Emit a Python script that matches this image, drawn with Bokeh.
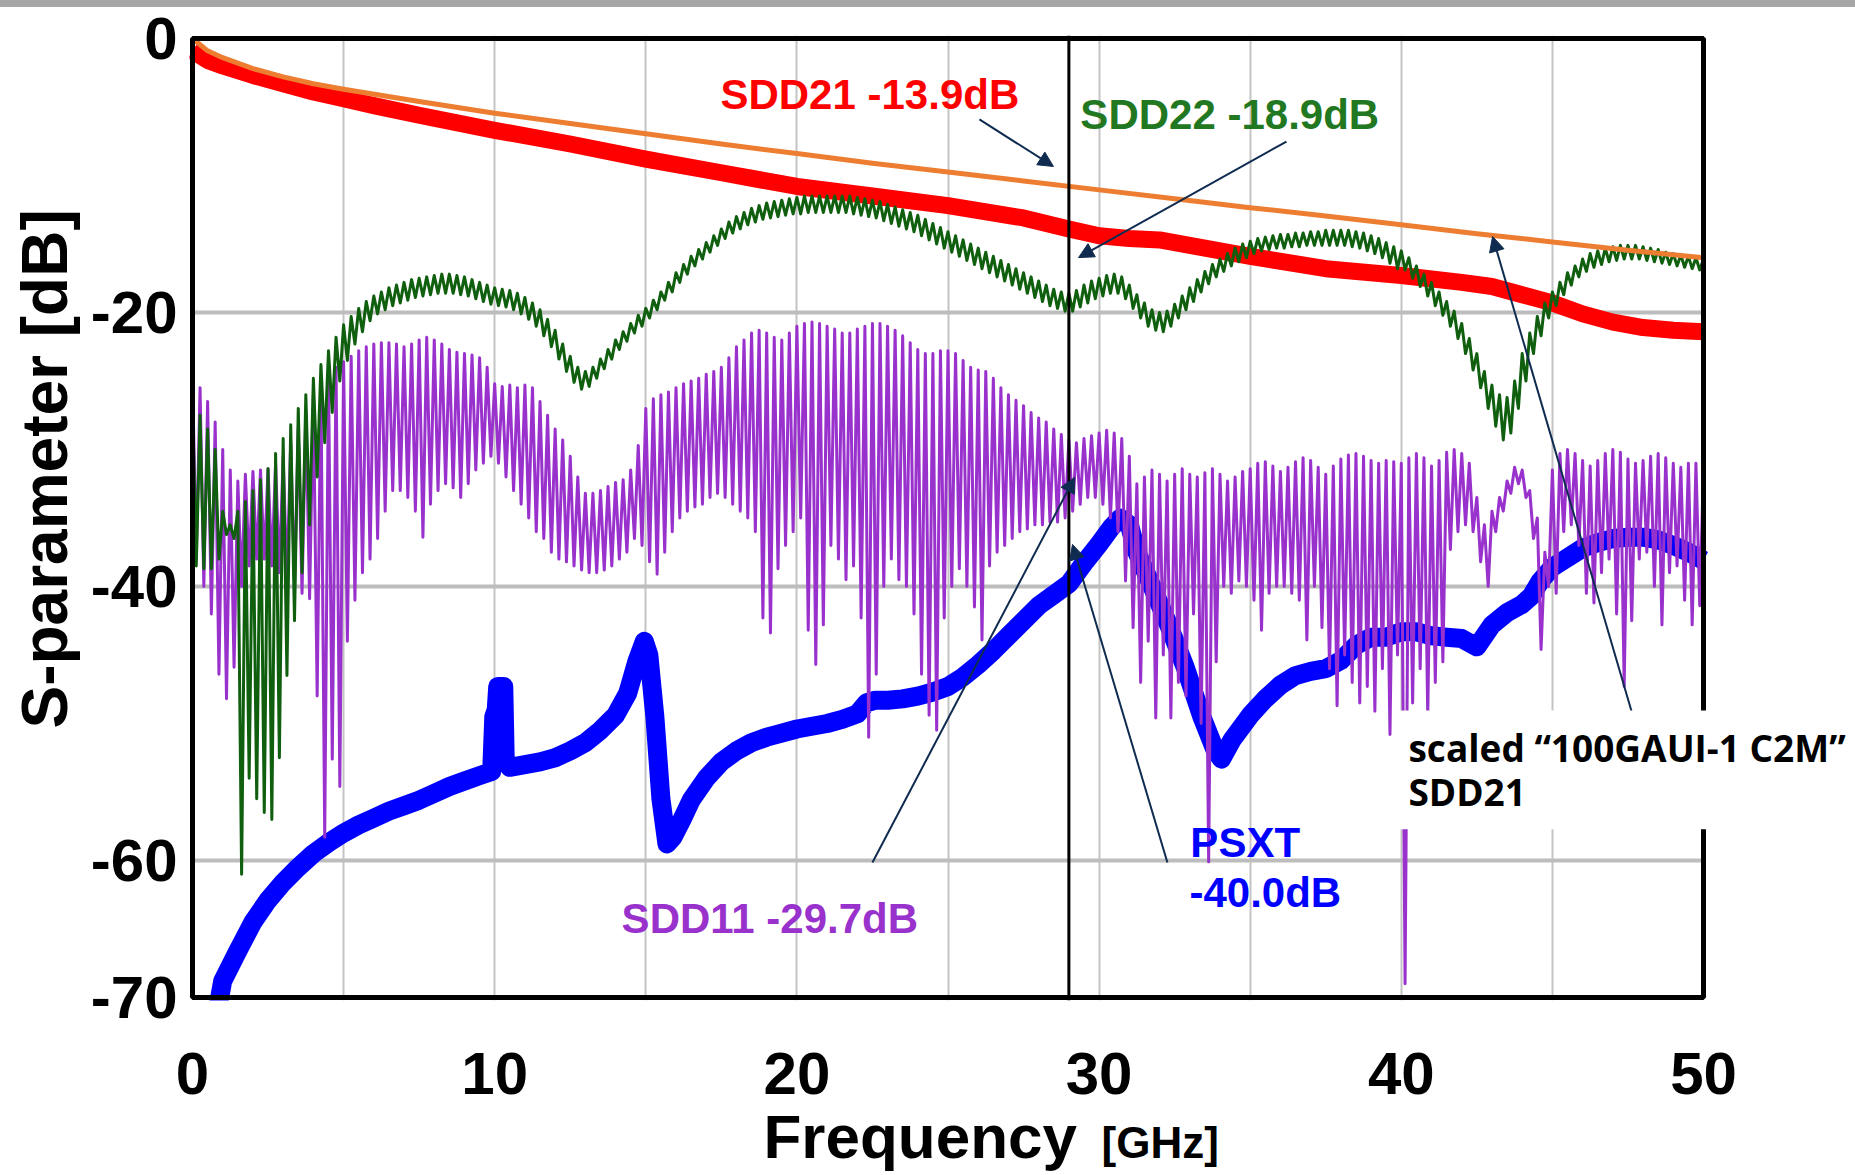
import numpy as np
from bokeh.plotting import figure
from bokeh.models import Range1d, FixedTicker, Label, Arrow, NormalHead, Div, Span, Title
from bokeh.layouts import column
from bokeh.embed import file_html
from bokeh.resources import INLINE

# ---------------- data ----------------
x_ticks = [0, 10, 20, 30, 40, 50]
y_ticks = [0, -20, -40, -60, -70]
y_tick_text = {0: "0", -20: "-20", -40: "-40", -60: "-60", -70: "-70"}
x_grid = [5, 10, 15, 20, 25, 30, 35, 40, 45]
y_grid = [-20, -40, -60]
marker_freq = 29.0

# scaled "100GAUI-1 C2M" SDD21 (orange)
orange_f = [0, 0.5, 1, 2, 3, 4, 5, 7.5, 10, 12.5, 15, 17.5, 20, 22.5, 25, 27.5, 30,
            32.5, 35, 37.5, 40, 42.5, 45, 47.5, 50]
orange_db = [0, -0.9, -1.4, -2.2, -2.8, -3.3, -3.7, -4.6, -5.45, -6.2, -6.95, -7.7, -8.4,
             -9.1, -9.75, -10.4, -11.05, -11.7, -12.35, -12.95, -13.6, -14.25, -14.85, -15.45, -16.0]

# SDD21 (red)
red_f = [0, 0.5, 1, 2, 3, 4, 5, 6, 7.5, 10, 12.5, 15, 17.5, 20, 22.5, 25, 27.5, 29, 30, 31,
         32, 33, 35, 37.5, 40, 42, 43, 44, 45, 46, 47, 48, 49, 50]
red_db = [-0.9, -1.6, -2.0, -2.7, -3.3, -3.9, -4.4, -4.9, -5.6, -6.7, -7.7, -8.8, -9.8, -10.8,
          -11.5, -12.2, -13.1, -13.9, -14.4, -14.6, -14.7, -15.1, -15.9, -16.8, -17.3, -17.8,
          -18.1, -18.7, -19.3, -20.1, -20.7, -21.1, -21.3, -21.4]

# PSXT (blue)
blue_f = [0.85, 1.0, 1.5, 2.0, 2.5, 3.0, 3.5, 4.0, 4.5, 5.0, 5.5, 6.0, 6.5, 7.0, 7.5, 8.0, 8.5,
          9.0, 9.5, 9.9, 9.97, 10.05, 10.1, 10.3, 10.35, 10.5, 11.0, 11.5, 12.0, 12.5, 13.0,
          13.5, 14.0, 14.4, 14.7, 14.95, 15.1, 15.3, 15.5, 15.7, 15.9, 16.2, 16.5, 17.0, 17.5,
          18.0, 18.5, 19.0, 19.5, 20.0, 20.5, 21.0, 21.5, 22.0, 22.3, 22.6, 23.0, 23.5, 24.0,
          24.5, 25.0, 25.5, 26.0, 26.5, 27.0, 27.5, 28.0, 28.5, 29.0, 29.5, 30.0, 30.4, 30.7,
          31.0, 31.25, 31.75, 32.3, 32.85, 33.4, 33.85, 34.05, 34.4, 35.0, 35.5, 36.0, 36.5,
          37.0, 37.5, 38.0, 38.5, 39.0, 39.5, 40.0, 40.5, 41.0, 41.5, 42.0, 42.5, 43.0, 43.5,
          44.0, 44.3, 44.6, 45.0, 45.5, 46.0, 46.5, 47.0, 47.5, 48.0, 48.5, 49.0, 49.5, 50.0]
blue_db = [-70.6, -68.8, -66.6, -64.5, -62.9, -61.6, -60.5, -59.5, -58.7, -58.0, -57.4, -56.9,
           -56.4, -56.0, -55.6, -55.1, -54.6, -54.2, -53.8, -53.5, -49.5, -49.0, -47.3, -47.3,
           -52.8, -53.2, -53.0, -52.8, -52.5, -52.0, -51.4, -50.5, -49.4, -47.8, -45.5, -44.0,
           -45.0, -49.5, -55.5, -58.8, -58.3, -57.0, -55.6, -54.0, -52.8, -52.0, -51.4, -51.0,
           -50.7, -50.4, -50.2, -50.0, -49.7, -49.3, -48.5, -48.3, -48.3, -48.2, -48.0, -47.7,
           -47.3, -46.6, -45.7, -44.7, -43.6, -42.5, -41.4, -40.6, -39.8, -38.3, -36.9, -35.7,
           -35.0, -35.5, -37.5, -40.0, -42.8, -45.9, -49.5, -52.0, -52.6, -51.2, -49.4, -48.2,
           -47.2, -46.5, -46.2, -46.0, -45.4, -44.3, -43.7, -43.7, -43.3, -43.3, -43.6, -43.7,
           -43.8, -44.4, -42.8, -41.9, -41.3, -40.7, -39.6, -38.6, -37.9, -37.2, -36.8, -36.5,
           -36.4, -36.4, -36.6, -37.0, -37.5, -38.1]

# ripple peaks at 0, 0.25, ... 50 GHz; ripple dips at 0.125, 0.375, ... 49.875 GHz
ripple_step = 0.25

# SDD11 (purple)
purple_peak_db = [
    -24.5, -25.5, -26.5, -28.0, -30.0, -31.5, -32.3, -31.8, -31.6, -31.5, -31.4, -31.0, -30.5, -29.5, -28.5, -27.2, -26.0, -25.0, -24.4, -24.0,
    -23.6, -23.2, -22.8, -22.5, -22.3, -22.2, -22.2, -22.3, -22.5, -22.3, -22.0, -21.8, -22.0, -22.3, -22.7, -22.9, -23.0, -23.1, -23.3, -24.0,
    -25.2, -25.4, -25.3, -25.5, -25.3, -25.5, -26.5, -27.5, -28.5, -29.3, -30.5, -32.0, -33.2, -33.2, -33.0, -32.7, -32.4, -32.2, -31.5, -29.7,
    -27.0, -26.3, -26.0, -25.8, -25.5, -25.2, -25.0, -24.8, -24.5, -24.3, -24.0, -23.3, -22.5, -22.0, -21.5, -21.3, -21.5, -21.8, -22.0, -21.5,
    -21.0, -20.8, -20.7, -20.8, -21.0, -21.2, -21.5, -21.5, -21.2, -21.0, -20.8, -20.8, -21.0, -21.3, -21.7, -22.2, -22.7, -23.0, -23.0, -22.8,
    -22.8, -23.0, -23.5, -24.0, -24.2, -24.3, -24.8, -25.5, -26.0, -26.4, -26.8, -27.3, -27.7, -28.0, -28.5, -28.9, -29.3, -29.5, -29.2, -29.0,
    -28.8, -28.6, -28.8, -29.2, -30.5, -32.5, -32.0, -31.5, -31.8, -32.3, -31.8, -31.4, -31.8, -32.0, -31.7, -31.4, -31.8, -32.3, -32.0, -31.6,
    -31.4, -31.0, -30.9, -31.2, -31.6, -31.3, -30.9, -30.6, -30.8, -31.3, -31.8, -31.2, -30.7, -30.4, -30.3, -30.5, -30.8, -31.0, -30.8, -30.9,
    -31.0, -30.6, -30.3, -30.6, -31.2, -30.8, -30.2, -30.0, -30.3, -31.0, -33.5, -35.5, -34.5, -33.5, -32.3, -31.3, -31.5, -33.0, -35.0, -37.5,
    -31.5, -30.3, -30.0, -30.3, -30.8, -31.2, -30.8, -30.3, -30.0, -30.2, -30.7, -31.0, -30.8, -30.5, -30.3, -30.6, -31.0, -31.3, -31.0, -31.0,
    -31.2]
purple_dip_db = [
    -38.0, -40.0, -42.0, -46.4, -48.2, -45.9, -40.0, -38.5, -38.0, -38.0, -38.5, -39.0, -39.5, -40.0, -40.5, -40.9, -48.0, -58.3, -52.6, -54.6,
    -44.0, -41.0, -39.0, -38.0, -36.5, -34.5, -33.0, -33.0, -33.5, -34.5, -36.4, -34.0, -33.0, -32.5, -32.8, -33.5, -32.5, -31.5, -31.0, -30.5,
    -31.0, -32.0, -33.0, -34.0, -35.0, -36.0, -36.5, -37.5, -38.0, -38.2, -38.5, -38.8, -39.0, -39.0, -38.8, -38.5, -38.0, -37.5, -36.5, -37.0,
    -38.2, -39.1, -37.5, -36.0, -35.0, -34.5, -34.2, -34.0, -33.5, -33.2, -33.5, -34.0, -34.5, -35.0, -36.0, -42.3, -43.4, -38.7, -37.0, -36.0,
    -35.0, -43.2, -45.7, -42.8, -37.0, -38.0, -39.5, -38.5, -42.3, -51.0, -46.4, -40.0, -38.0, -39.5, -40.0, -42.0, -46.4, -49.4, -50.5, -42.3,
    -40.0, -38.7, -40.0, -41.5, -43.9, -38.5, -37.5, -37.0, -36.5, -36.0, -35.8, -35.5, -35.5, -35.3, -35.3, -35.0, -34.5, -34.0, -33.5, -33.5,
    -34.0, -35.0, -36.0, -39.6, -43.0, -47.0, -44.0, -49.6, -45.0, -49.6, -47.0, -48.0, -42.0, -50.0, -60.1, -45.5, -40.0, -40.5, -39.6, -40.0,
    -41.0, -43.2, -40.5, -40.0, -40.0, -40.5, -41.0, -43.9, -40.0, -43.0, -46.0, -48.7, -45.0, -47.0, -48.5, -47.3, -49.1, -46.0, -50.8, -45.0,
    -69.0, -48.5, -46.0, -49.4, -47.0, -45.5, -37.3, -36.0, -35.5, -36.0, -38.2, -40.0, -36.0, -34.5, -33.2, -32.5, -33.5, -36.5, -44.6, -40.0,
    -40.5, -36.0, -35.5, -37.0, -40.5, -41.2, -39.0, -38.0, -42.0, -47.3, -42.5, -38.0, -37.5, -40.0, -42.8, -39.0, -38.5, -41.0, -42.8, -41.4]

# SDD22 (green)
green_peak_db = [
    -26.5, -27.5, -28.5, -30.0, -34.5, -35.5, -34.5, -33.8, -33.0, -32.2, -31.4, -30.3, -29.2, -28.2, -27.0, -26.0, -24.8, -23.8, -22.8, -21.8,
    -20.9, -20.3, -19.7, -19.2, -18.8, -18.5, -18.2, -18.0, -17.8, -17.6, -17.5, -17.4, -17.3, -17.2, -17.2, -17.3, -17.4, -17.6, -17.8, -18.0,
    -18.2, -18.3, -18.4, -18.6, -18.9, -19.3, -19.8, -20.5, -21.3, -22.3, -23.2, -24.0, -24.3, -24.0, -23.4, -22.7, -22.0, -21.4, -20.8, -20.2,
    -19.7, -19.1, -18.5, -17.8, -17.1, -16.5, -15.9, -15.4, -14.9, -14.4, -13.9, -13.4, -13.0, -12.7, -12.4, -12.2, -12.0, -11.9, -11.8, -11.7,
    -11.6, -11.5, -11.5, -11.5, -11.5, -11.5, -11.5, -11.5, -11.6, -11.7, -11.8, -11.9, -12.1, -12.3, -12.5, -12.7, -12.9, -13.2, -13.5, -13.8,
    -14.1, -14.4, -14.7, -15.0, -15.3, -15.6, -15.9, -16.2, -16.5, -16.8, -17.1, -17.4, -17.7, -18.0, -18.3, -18.5, -18.6, -18.4, -18.0, -17.7,
    -17.5, -17.3, -17.2, -17.4, -18.0, -18.7, -19.3, -19.8, -20.0, -19.9, -19.4, -18.8, -18.2, -17.6, -17.0, -16.5, -16.1, -15.7, -15.3, -15.0,
    -14.8, -14.6, -14.5, -14.4, -14.3, -14.3, -14.2, -14.2, -14.1, -14.1, -14.0, -14.0, -14.0, -14.0, -14.1, -14.2, -14.4, -14.6, -14.9, -15.2,
    -15.5, -16.0, -16.6, -17.2, -17.8, -18.5, -19.2, -19.9, -20.8, -21.9, -23.0, -24.3, -25.3, -26.0, -26.2, -25.0, -23.0, -21.5, -20.3, -19.3,
    -18.5, -17.8, -17.1, -16.6, -16.1, -15.7, -15.5, -15.3, -15.2, -15.1, -15.1, -15.1, -15.2, -15.3, -15.4, -15.6, -15.7, -15.8, -15.9, -16.0,
    -16.1]
green_dip_db = [
    -38.5, -38.7, -38.7, -38.0, -36.2, -36.5, -61.0, -54.0, -55.5, -56.5, -57.0, -52.5, -46.5, -42.5, -39.0, -35.5, -32.0, -29.5, -27.3, -25.0,
    -23.5, -22.3, -21.4, -20.6, -20.1, -19.8, -19.5, -19.3, -19.1, -18.9, -18.8, -18.7, -18.6, -18.6, -18.6, -18.7, -18.8, -19.0, -19.2, -19.4,
    -19.5, -19.6, -19.8, -20.1, -20.5, -21.0, -21.7, -22.5, -23.4, -24.3, -25.1, -25.6, -25.4, -24.8, -24.1, -23.4, -22.7, -22.1, -21.5, -21.0,
    -20.4, -19.8, -19.1, -18.5, -17.8, -17.2, -16.6, -16.1, -15.6, -15.1, -14.6, -14.2, -13.9, -13.6, -13.4, -13.2, -13.1, -13.0, -12.9, -12.8,
    -12.8, -12.7, -12.7, -12.7, -12.7, -12.7, -12.7, -12.8, -12.9, -13.0, -13.1, -13.3, -13.5, -13.7, -13.9, -14.1, -14.4, -14.7, -15.0, -15.3,
    -15.6, -15.9, -16.2, -16.5, -16.8, -17.1, -17.4, -17.7, -18.0, -18.3, -18.6, -18.9, -19.2, -19.5, -19.7, -19.9, -19.9, -19.6, -19.3, -19.0,
    -18.8, -18.6, -18.6, -19.0, -19.7, -20.4, -21.0, -21.3, -21.4, -21.0, -20.4, -19.8, -19.2, -18.5, -17.9, -17.4, -17.0, -16.6, -16.3, -16.0,
    -15.7, -15.5, -15.4, -15.3, -15.3, -15.2, -15.2, -15.1, -15.1, -15.1, -15.1, -15.1, -15.1, -15.2, -15.3, -15.5, -15.7, -16.0, -16.4, -16.8,
    -16.9, -17.5, -18.1, -18.8, -19.5, -20.2, -21.0, -21.9, -23.0, -24.2, -25.5, -27.0, -28.3, -29.3, -28.8, -27.0, -25.0, -23.0, -21.7, -20.4,
    -19.5, -18.7, -18.0, -17.4, -17.0, -16.7, -16.5, -16.3, -16.2, -16.1, -16.1, -16.1, -16.2, -16.3, -16.4, -16.5, -16.6, -16.7, -16.8, -16.9]


def zigzag(peaks, dips, step):
    xs, ys = [], []
    for k, d in enumerate(dips):
        xs += [k * step, k * step + step / 2]
        ys += [peaks[k], d]
    xs.append(len(dips) * step)
    ys.append(peaks[len(dips)])
    return xs, ys


purple_f, purple_db = zigzag(purple_peak_db, purple_dip_db, ripple_step)
green_f, green_db = zigzag(green_peak_db, green_dip_db, ripple_step)

# ---------------- layout geometry ----------------
X_MIN, X_MAX = x_ticks[0], x_ticks[-1]
Y_MIN, Y_MAX = y_ticks[-1], y_ticks[0]
PX_X = 1511 / (X_MAX - X_MIN)      # px per GHz
PX_Y = 959 / (Y_MAX - Y_MIN)       # px per dB
PAD = 3                             # px of frame kept around the drawn border
RIGHT_EXTRA = 152                   # frame continues to the page edge (text box)
BAND = 7                            # grey strip at the top of the page

FONT = "Liberation Sans"
p = figure(frame_width=1511 + PAD + RIGHT_EXTRA, frame_height=959 + 2 * PAD,
           x_range=Range1d(X_MIN - PAD / PX_X, X_MAX + RIGHT_EXTRA / PX_X),
           y_range=Range1d(Y_MIN - PAD / PX_Y, Y_MAX + PAD / PX_Y),
           output_backend="svg", toolbar_location=None,
           min_border_left=192 - PAD, min_border_right=0,
           min_border_top=38 - PAD, min_border_bottom=178 - PAD)
p.background_fill_color = "white"
p.border_fill_color = None
p.outline_line_color = None

for ax in (p.xaxis[0], p.yaxis[0]):
    ax.axis_line_color = None
    ax.major_tick_line_color = None
    ax.minor_tick_line_color = None
    ax.major_tick_out = 0
    ax.major_tick_in = 0
    ax.major_label_text_font = FONT
    ax.major_label_text_font_style = "bold"
    ax.major_label_text_font_size = "60px"
    ax.major_label_text_color = "black"
p.xaxis.ticker = FixedTicker(ticks=x_ticks)
p.yaxis.ticker = FixedTicker(ticks=y_ticks)
p.yaxis.major_label_overrides = y_tick_text
p.xaxis.major_label_standoff = 52
p.yaxis.major_label_standoff = 12

p.xgrid.ticker = FixedTicker(ticks=x_grid)
p.xgrid.grid_line_color = "#c4c4c4"
p.xgrid.grid_line_width = 2
p.ygrid.grid_line_color = None
p.segment(x0=[X_MIN] * len(y_grid), x1=[X_MAX] * len(y_grid), y0=y_grid, y1=y_grid,
          line_color="#bdbdbd", line_width=4)

# curves
p.line(blue_f, blue_db, line_color="#0000ff", line_width=19, line_join="round", line_cap="butt")
p.line(red_f, red_db, line_color="#ff0000", line_width=17, line_join="round", line_cap="butt")
p.line(purple_f, purple_db, line_color="#9932cc", line_width=3, line_join="round")
p.line(green_f, green_db, line_color="#0f5f0f", line_width=3, line_join="round")
p.line(orange_f, orange_db, line_color="#ed7d31", line_width=5, line_join="round")

# plot border
p.quad(left=[X_MIN], right=[X_MAX], top=[Y_MAX], bottom=[Y_MIN],
       fill_color=None, line_color="black", line_width=5)

p.add_layout(Span(location=marker_freq, dimension="height", line_color="black", line_width=3))

# arrows
ARROW = "#0f2b4f"
for xs, ys, xe, ye in [(26.04, -5.91, 28.49, -9.34),
                       (36.20, -7.52, 29.32, -15.99),
                       (22.50, -60.15, 29.19, -32.04),
                       (32.26, -60.15, 29.12, -36.93),
                       (47.65, -49.34, 43.02, -14.45)]:
    p.add_layout(Arrow(end=NormalHead(size=15, fill_color=ARROW, line_color=ARROW, line_width=1),
                       x_start=xs, y_start=ys, x_end=xe, y_end=ye,
                       line_color=ARROW, line_width=2))


def lab(text, x, y, color, size, font=FONT, align="left", baseline="alphabetic", **kw):
    p.add_layout(Label(x=x, y=y, text=text, text_color=color, text_font=font,
                       text_font_style="bold", text_font_size=size,
                       text_align=align, text_baseline=baseline, **kw))


lab("SDD21 -13.9dB", 17.47, -4.09, "#ff0000", "42px")
lab("SDD22 -18.9dB", 29.38, -5.55, "#217821", "42px")
lab("SDD11 -29.7dB", 14.2, -64.23, "#9932cc", "42px")
lab("PSXT", 33.02, -58.68, "#0000ff", "42px")
lab("-40.0dB", 32.99, -62.33, "#0000ff", "42px")
lab("scaled \u201c100GAUI-1 C2M\u201d\nSDD21", 39.84, -49.05, "black", "37px",
    font="Open Sans", baseline="top", background_fill_color="white", padding=12,
    text_line_height=0.86)

# axis titles
p.add_layout(Title(text="S-parameter [dB]", align="left", offset=272, vertical_align="middle",
                   standoff=12, text_font=FONT, text_font_style="bold",
                   text_font_size="64px", text_color="black"), "left")
p.add_layout(Title(text="Frequency", align="left", offset=574, vertical_align="top",
                   standoff=10, text_font=FONT, text_font_style="bold",
                   text_font_size="62px", text_color="black"), "below")
p.add_layout(Title(text="[GHz]", align="left", offset=912, vertical_align="top",
                   standoff=-120, text_font=FONT, text_font_style="bold",
                   text_font_size="44px", text_color="black"), "below")

# grey strip at the very top; the (transparent-bordered) figure overlaps it
top_band = Div(text="", width=1855, height=BAND, margin=(0, 0, -BAND, 0),
               styles={"background-color": "#a6a6a6"})
layout = column(top_band, p, spacing=0)

open("out.html", "w").write(file_html(layout, INLINE))
